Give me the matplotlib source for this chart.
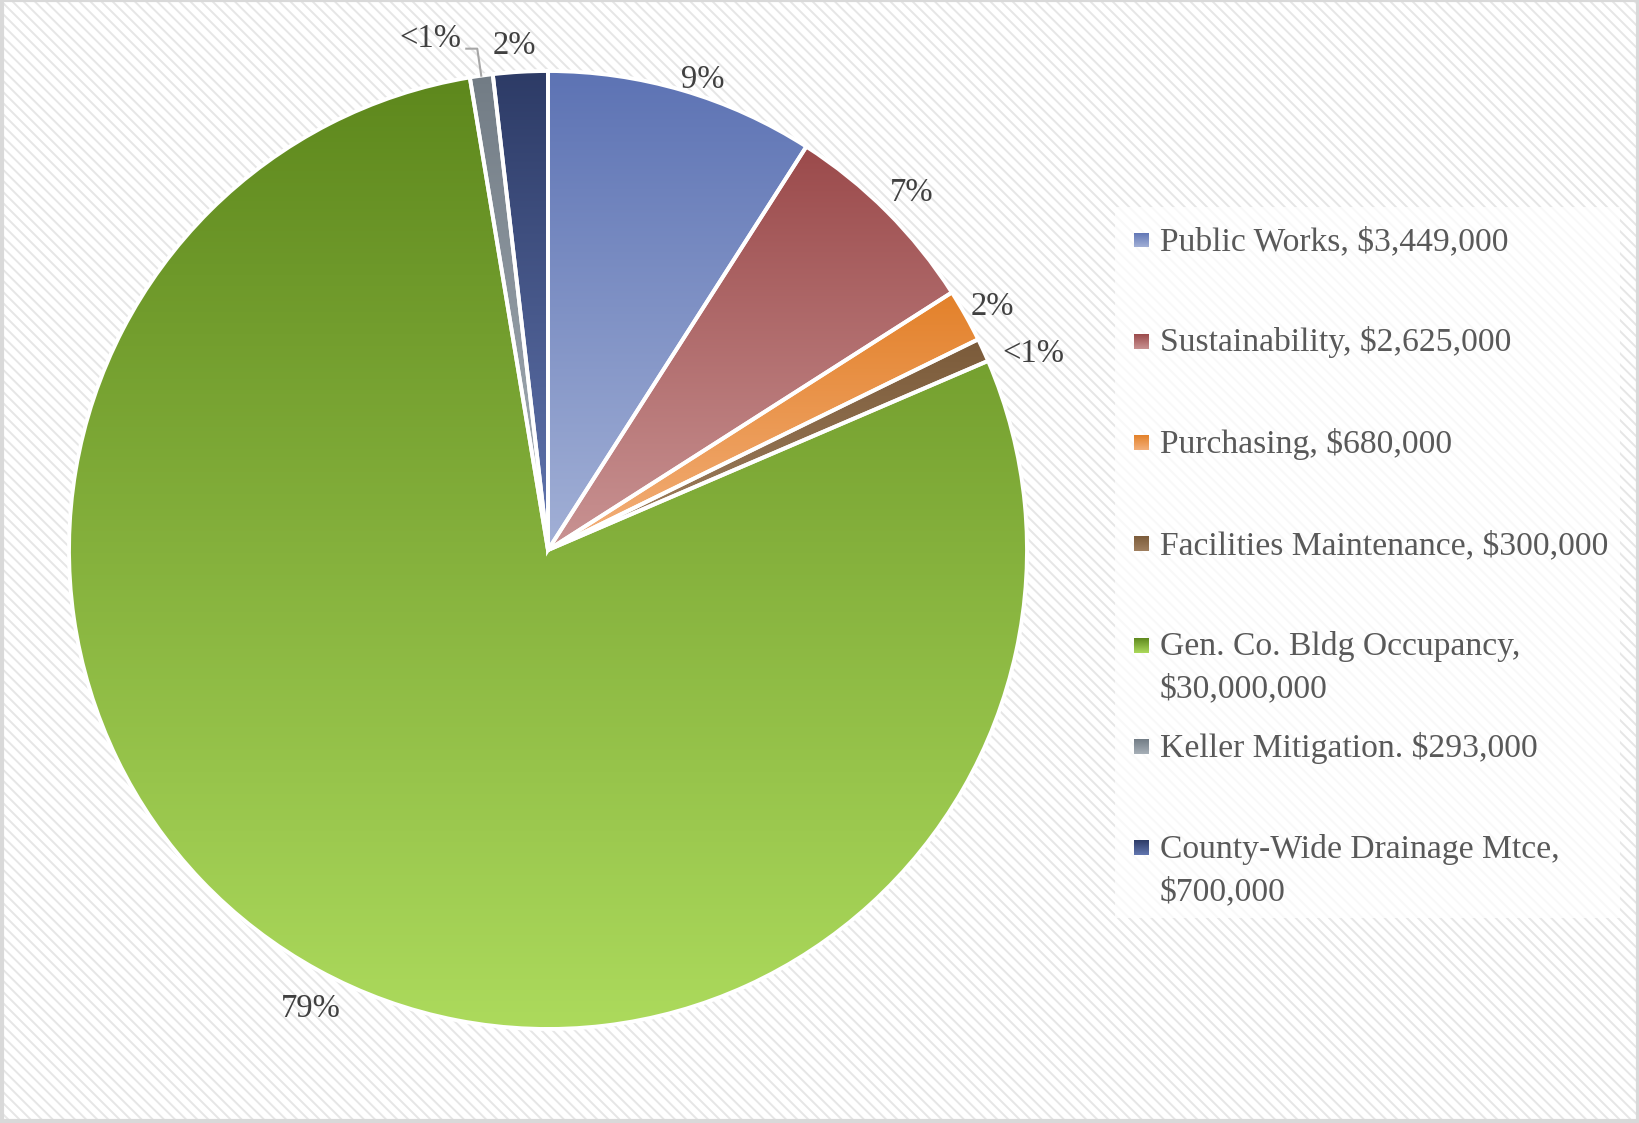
import numpy as np
import matplotlib
matplotlib.use('Agg')
import matplotlib.pyplot as plt
from matplotlib.patches import Rectangle
from matplotlib.colors import LinearSegmentedColormap

# data
labels = ['Public Works, $3,449,000', 'Sustainability, $2,625,000',
          'Purchasing, $680,000', 'Facilities Maintenance, $300,000',
          'Gen. Co. Bldg Occupancy,\n$30,000,000', 'Keller Mitigation. $293,000',
          'County-Wide Drainage Mtce,\n$700,000']
values = [3449000, 2625000, 680000, 300000, 30000000, 293000, 700000]
# gradient colours (top, bottom) for each slice
top_colors = ['#5d73b4', '#9b4a4b', '#e3812a', '#7b5b3a', '#5e881d', '#727c85', '#2d3b66']
bot_colors = ['#a2b0d6', '#c99393', '#f3b07b', '#a08060', '#acda5c', '#a7b0b8', '#6276b0']

W, H = 1640, 1123
plt.rcParams['font.family'] = ['Liberation Serif', 'DejaVu Serif']
plt.rcParams['hatch.linewidth'] = 1.4

fig = plt.figure(figsize=(W / 100, H / 100), dpi=100)
ax = fig.add_axes([0, 0, 1, 1])
ax.set_xlim(0, W)
ax.set_ylim(0, H)
ax.axis('off')

# hatched background and frame
ax.add_patch(Rectangle((0, 0), W, H, facecolor='white', edgecolor='#e6e6e6',
                       hatch='\\\\\\', linewidth=0, zorder=-3))
ax.add_patch(Rectangle((2, 2), W - 4, H - 2, facecolor='none', edgecolor='#d9d9d9',
                       linewidth=3, zorder=5))


def gradient_fill(patch, c_top, c_bot, z=0.5):
    bb = patch.get_path().transformed(patch.get_patch_transform()).get_extents()
    cmap = LinearSegmentedColormap.from_list('g', [c_bot, c_top])
    grad = np.linspace(0, 1, 256).reshape(-1, 1)
    im = ax.imshow(grad, cmap=cmap, origin='lower', aspect='auto', zorder=z,
                   extent=[bb.x0, bb.x1, bb.y0, bb.y1], interpolation='bilinear')
    im.set_clip_path(patch)


cx, cy, r = 548, H - 550, 479
wedges, _ = ax.pie(values, center=(cx, cy), radius=r, startangle=90, counterclock=False,
                   wedgeprops=dict(edgecolor='white', linewidth=2.8))
for w, ct, cb in zip(wedges, top_colors, bot_colors):
    gradient_fill(w, ct, cb)
    w.set_facecolor('none')
    w.set_zorder(1)
ax.set_xlim(0, W)
ax.set_ylim(0, H)

# percentage labels
total = sum(values)
pcts = [v / total * 100 for v in values]
pct_txt = ['<1%' if p < 1 else '%d%%' % round(p) for p in pcts]
dists = [1.041, 1.070, 1.063, 1.096, 1.071, 1.1, 1.063]
shifts = [-1.8, -0.2, -0.2, -2.2, 1.1, 0, 0.5]
for i, (w, t) in enumerate(zip(wedges, pct_txt)):
    mid = np.deg2rad((w.theta1 + w.theta2) / 2 + shifts[i])
    if i == 5:
        # small slice with leader line
        ex, ey = cx + r * np.cos(mid), cy + r * np.sin(mid)
        ax.plot([ex, ex - 4, ex - 15], [ey, ey + 27, ey + 27], color='#a6a6a6', lw=1.5, zorder=3)
        ax.text(ex - 51, ey + 37, t, ha='center', va='center', fontsize=23.5,
                color='#404040', zorder=4)
        continue
    d = r * dists[i]
    ax.text(cx + d * np.cos(mid), cy + d * np.sin(mid) - 4, t, ha='center', va='center',
            fontsize=23.5, color='#404040', zorder=4)

# legend
ax.add_patch(Rectangle((1115, H - 918), 505, 711, facecolor='white', edgecolor='none',
                       alpha=0.75, zorder=-1))
for i, lab in enumerate(labels):
    yc = H - (240 + i * 101.3)
    sq = Rectangle((1134, yc - 7.5), 15, 15, facecolor='none', edgecolor='none', zorder=1)
    ax.add_patch(sq)
    gradient_fill(sq, top_colors[i], bot_colors[i])
    for j, line in enumerate(lab.split('\n')):
        ax.text(1160, yc - 10 - j * 42, line, ha='left', va='baseline', fontsize=24.2,
                color='#595959', zorder=4)

fig.savefig('out.png', dpi=100)
